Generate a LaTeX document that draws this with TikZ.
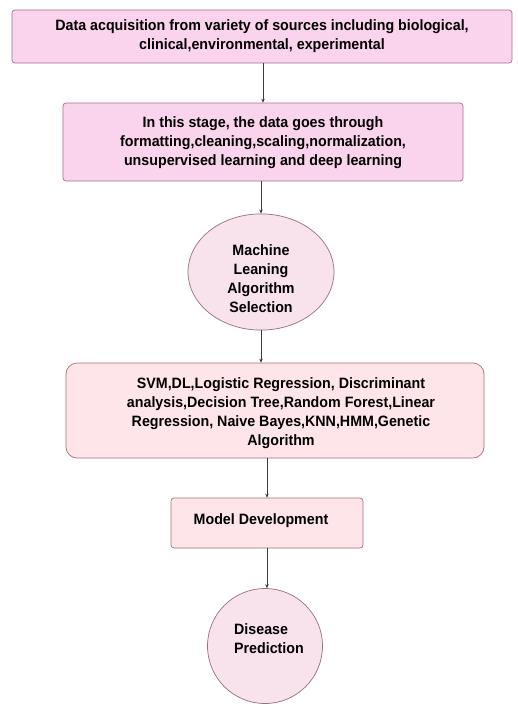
\documentclass[tikz,border=0pt]{standalone}
\usepackage{fontspec}
\setmainfont{Liberation Sans}[FakeStretch=0.95]
\usetikzlibrary{shapes.geometric,arrows.meta}
\definecolor{magpink}{RGB}{250,211,236}
\definecolor{magline}{RGB}{168,112,142}
\definecolor{softpink}{RGB}{253,229,233}
\definecolor{softline}{RGB}{170,112,122}
\definecolor{ovalpink}{RGB}{248,226,236}
\definecolor{ovalline}{RGB}{150,112,130}
\definecolor{arrowgray}{RGB}{60,60,60}
\newcommand{\topstrut}[1]{\rule{0pt}{#1}}
\begin{document}
\begin{tikzpicture}[x=1pt,y=-1pt,
    font=\fontsize{15}{19}\selectfont\bfseries,
    magbox/.style={draw=magline,fill=magpink,line width=0.7pt,rounded corners=3pt,align=center,inner sep=0pt},
    softbox/.style={draw=softline,fill=softpink,line width=0.7pt,align=center,inner sep=0pt},
    oval/.style={ellipse,draw=ovalline,fill=ovalpink,line width=0.7pt,align=center,inner sep=0pt},
    flow/.style={draw=arrowgray,line width=0.6pt,-{Stealth[length=4pt,width=3.5pt]}}]
    \useasboundingbox[fill=white] (0,0) rectangle (517,704);

    % Acquisition
    \node[magbox,minimum width=500pt,minimum height=53pt] (acq) at (262,36.5)
        {Data acquisition from variety of sources including biological,\\clinical,environmental, experimental};

    % Preprocessing
    \node[magbox,minimum width=400pt,minimum height=78pt] (prep) at (263,142)
        {\topstrut{13pt}In this stage, the data goes through\\formatting,cleaning,scaling,normalization,\\unsupervised learning and deep learning};

    % Algorithm selection
    \node[oval,minimum width=146pt,minimum height=104pt] (select) at (261,272)
        {\topstrut{25pt}Machine\\Leaning\\Algorithm\\Selection};

    % Algorithms
    \node[softbox,rounded corners=11pt,minimum width=418pt,minimum height=95pt] (algos) at (275,410.5)
        {\topstrut{17pt}\hspace*{12pt}SVM,DL,Logistic Regression, Discriminant\\\hspace*{12pt}analysis,Decision Tree,Random Forest,Linear\\\hspace*{12pt}Regression, Naive Bayes,KNN,HMM,Genetic\\\hspace*{12pt}Algorithm};

    % Model
    \node[softbox,rounded corners=3pt,minimum width=192pt,minimum height=50pt,text depth=8pt] (model) at (267,523)
        {Model Development\hspace*{12pt}};

    % Prediction
    \node[oval,align=left,minimum width=115pt,minimum height=115pt,text depth=14pt] (predict) at (265,646)
        {\hspace*{8pt}Disease\\\hspace*{8pt}Prediction};

    % Connessioni
    \draw[flow] (acq.south -| prep.north) -- (prep.north);
    \draw[flow] (prep.south -| select.north) -- (select.north);
    \draw[flow] (select.south) -- (select.south |- algos.north);
    \draw[flow] (algos.south -| model.north) -- (model.north);
    \draw[flow] (model.south) -- (model.south |- predict.north);
\end{tikzpicture}
\end{document}
